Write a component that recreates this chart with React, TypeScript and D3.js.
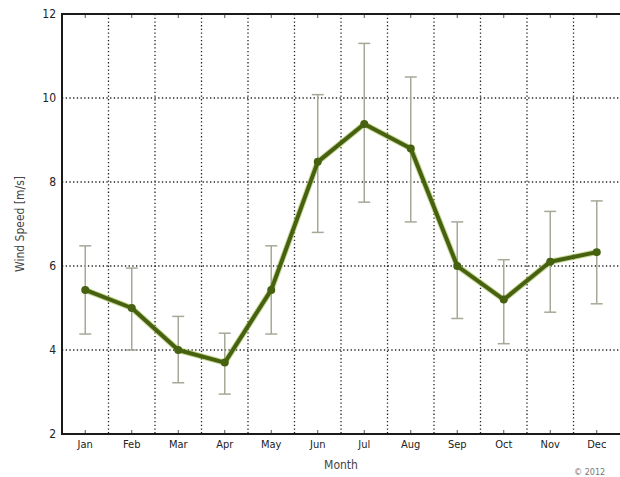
import * as d3 from "d3";

const months = ["Jan", "Feb", "Mar", "Apr", "May", "Jun", "Jul", "Aug", "Sep", "Oct", "Nov", "Dec"];
const meanSpeed = [5.43, 5.0, 4.0, 3.7, 5.43, 8.48, 9.38, 8.8, 6.0, 5.2, 6.1, 6.33];
const lowSpeed = [4.38, 4.0, 3.22, 2.95, 4.38, 6.8, 7.52, 7.05, 4.75, 4.15, 4.9, 5.1];
const highSpeed = [6.48, 5.95, 4.8, 4.4, 6.48, 10.08, 11.3, 10.5, 7.05, 6.15, 7.3, 7.55];
const yTicks = [2, 4, 6, 8, 10, 12];

export default function App() {
    const width = 620;
    const height = 477;
    const marginTop = 14;
    const marginRight = 0;
    const marginBottom = 43;
    const marginLeft = 62;
    const font = "'DejaVu Sans Condensed', 'DejaVu Sans', sans-serif";

    const x = d3.scaleLinear([0.5, 12.5], [marginLeft, width - marginRight]);
    const y = d3.scaleLinear([2, 12], [height - marginBottom, marginTop]);
    const line = d3.line<number>((_, i) => x(i + 1), (d) => y(d));
    const bounds = d3.range(1.5, 12.5, 1);

    return (
        <svg width={width} height={height} style={{ position: "absolute", left: 0, top: 0, background: "#fff" }}>
            {/* grid */}
            <g stroke="#222" strokeWidth="1.3" strokeDasharray="1.3,2.4">
                {bounds.map((b) => (
                    <line key={b} x1={x(b)} x2={x(b)} y1={y(12)} y2={y(2)} />
                ))}
                {yTicks.slice(1, -1).map((t) => (
                    <line key={t} x1={x(0.5)} x2={width} y1={y(t)} y2={y(t)} />
                ))}
            </g>
            {/* month ticks */}
            <g stroke="#555" strokeWidth="1">
                {months.map((_, i) => (
                    <g key={i}>
                        <line x1={x(i + 1)} x2={x(i + 1)} y1={y(2)} y2={y(2) - 4} />
                        <line x1={x(i + 1)} x2={x(i + 1)} y1={y(12)} y2={y(12) + 4} />
                    </g>
                ))}
            </g>
            {/* error bars */}
            <g stroke="#a6a997" strokeWidth="1.5">
                {months.map((_, i) => (
                    <g key={i}>
                        <line x1={x(i + 1)} x2={x(i + 1)} y1={y(lowSpeed[i])} y2={y(highSpeed[i])} />
                        <line x1={x(i + 1) - 6} x2={x(i + 1) + 6} y1={y(lowSpeed[i])} y2={y(lowSpeed[i])} />
                        <line x1={x(i + 1) - 6} x2={x(i + 1) + 6} y1={y(highSpeed[i])} y2={y(highSpeed[i])} />
                    </g>
                ))}
            </g>
            {/* line */}
            <path d={line(meanSpeed) ?? ""} fill="none" stroke="#8fae2c" strokeWidth="6" strokeLinejoin="round" opacity="0.5" />
            <path d={line(meanSpeed) ?? ""} fill="none" stroke="#46610f" strokeWidth="4" strokeLinejoin="round" />
            <g fill="#46610f">
                {meanSpeed.map((d, i) => (
                    <circle key={i} cx={x(i + 1)} cy={y(d)} r="4" />
                ))}
            </g>
            {/* frame */}
            <g stroke="#1a1a1a" strokeWidth="2" fill="none">
                <line x1={marginLeft} x2={marginLeft} y1={y(12) - 1} y2={y(2) + 1} />
                <line x1={marginLeft} x2={width} y1={y(2)} y2={y(2)} />
                <line x1={marginLeft} x2={width} y1={y(12)} y2={y(12)} />
            </g>
            {/* labels */}
            <g fontFamily={font} fontSize="11" fill="#222">
                {yTicks.map((t) => (
                    <text key={t} x={marginLeft - 6} y={y(t)} dy="0.35em" textAnchor="end" fontSize="12">{t}</text>
                ))}
                {months.map((m, i) => (
                    <text key={m} x={x(i + 1)} y={y(2) + 14} textAnchor="middle">{m}</text>
                ))}
                <text x={x(6.5)} y={469} textAnchor="middle" fontSize="12" fill="#444">Month</text>
                <text transform={`translate(24,${y(7)}) rotate(-90)`} textAnchor="middle" fontSize="12" fill="#444">Wind Speed [m/s]</text>
                <text x={574} y={475} fontSize="9" fill="#777">© 2012</text>
            </g>
        </svg>
    );
}
